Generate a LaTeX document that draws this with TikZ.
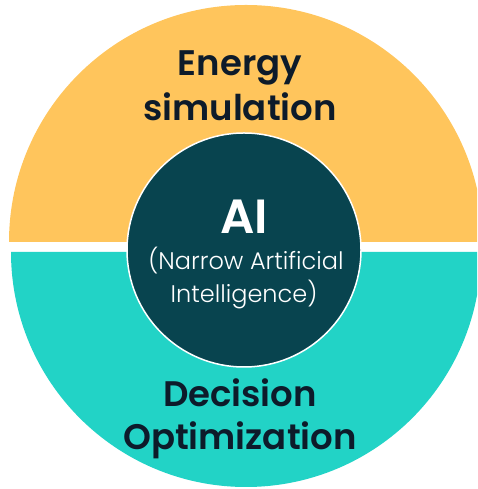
\documentclass[tikz,border=0pt]{standalone}
\usepackage{fontspec}
\setmainfont{Poppins}
\newfontfamily\semibold{Poppins SemiBold}
\newfontfamily\light{Poppins Light}
\definecolor{sunny}{HTML}{FFC55C}
\definecolor{aqua}{HTML}{22D3C6}
\definecolor{deepteal}{HTML}{08444F}
\definecolor{ink}{HTML}{0D1B2A}
\tikzset{
  label/.style={anchor=base, text=ink, font=\semibold\fontsize{35.5}{40}\selectfont, inner sep=0pt},
  core/.style={anchor=base, text=white, inner sep=0pt},
}
\begin{document}
\begin{tikzpicture}[x=1pt,y=1pt]
  \useasboundingbox (0,0) rectangle (477,489);
  \clip (0,0) rectangle (477,489);
  % upper half
  \fill[sunny] (9,247) arc[start angle=180,end angle=0,radius=237] -- cycle;
  % lower half
  \fill[aqua] (11,237) arc[start angle=180,end angle=360,radius=235] -- cycle;
  % central disc
  \node[circle, fill=deepteal, draw=white, line width=1.5pt, minimum size=234pt, inner sep=0pt] (core) at (244,239) {};
  % labels
  \node[label] (e1) at (240,413) {Energy};
  \node[label] (e2) at (240,368) {simulation};
  \node[label] (d1) at (240,82) {Decision};
  \node[label] (d2) at (240,39) {Optimization};
  \node[core, font=\semibold\fontsize{48}{50}\selectfont] (ai) at (244,255) {AI};
  \node[core, font=\light\fontsize{24}{26}\selectfont] (n1) at (246,219) {(Narrow Artificial};
  \node[core, font=\light\fontsize{24}{26}\selectfont] (n2) at (244,186) {Intelligence)};
\end{tikzpicture}
\end{document}
